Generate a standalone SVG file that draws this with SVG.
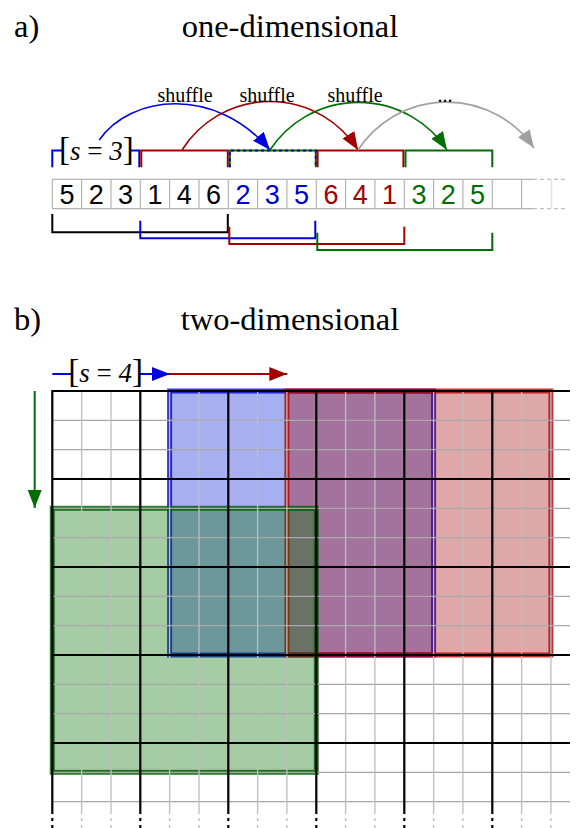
<svg xmlns="http://www.w3.org/2000/svg" width="581" height="828" viewBox="0 0 581 828">
<style>
.title{font-family:"Liberation Serif","Times New Roman",serif;font-size:32.5px;fill:#000}
.lbl{font-family:"Liberation Serif","Times New Roman",serif;font-size:20px;fill:#000;text-anchor:middle}
.num{font-family:"Liberation Sans",Arial,sans-serif;font-size:27px;text-anchor:middle}
.br{font-family:"Liberation Serif","Times New Roman",serif;fill:#000;text-anchor:middle}
.cell{stroke:#b4b4b4;stroke-width:1.2;fill:none}
.brk{fill:none;stroke-width:2}
.arc{fill:none;stroke-width:1.6}
.g1{stroke:#a8a8a8;stroke-width:1.3;fill:none}
.g1v{stroke:#bdbdbd;stroke-width:1.3;fill:none}
.g2{stroke:#000;stroke-width:2.2;fill:none}
</style>
<defs>
<marker id="mb" markerUnits="userSpaceOnUse" viewBox="0 0 18 14" markerWidth="18" markerHeight="14" refX="18" refY="7" orient="auto"><path d="M0,0 L18,7 L0,14 z" fill="#0000dd"/></marker>
<marker id="mr" markerUnits="userSpaceOnUse" viewBox="0 0 18 14" markerWidth="18" markerHeight="14" refX="18" refY="7" orient="auto"><path d="M0,0 L18,7 L0,14 z" fill="#a00000"/></marker>
<marker id="mg" markerUnits="userSpaceOnUse" viewBox="0 0 18 14" markerWidth="18" markerHeight="14" refX="18" refY="7" orient="auto"><path d="M0,0 L18,7 L0,14 z" fill="#006e00"/></marker>
<marker id="mk" markerUnits="userSpaceOnUse" viewBox="0 0 18 14" markerWidth="18" markerHeight="14" refX="18" refY="7" orient="auto"><path d="M0,0 L18,7 L0,14 z" fill="#a0a0a0"/></marker>
</defs>

<text class="title" x="14" y="37" font-size="33">a)</text>
<text class="title" x="290" y="37" text-anchor="middle">one-dimensional</text>
<text class="title" x="14" y="330" font-size="33">b)</text>
<text class="title" x="290" y="330" text-anchor="middle">two-dimensional</text>

<!-- 1D row -->
<g id="row">
<path class="cell" d="M52.3,179.3 H533 M52.3,208.7 H533"/>
<path d="M533,179.3 H567 M533,208.7 H567" stroke="#c0c0c0" stroke-width="1.2" stroke-dasharray="4,3" fill="none"/>
<path class="cell" d="M52.3,179.3 V208.7 M81.6,179.3 V208.7 M111,179.3 V208.7 M140.3,179.3 V208.7 M169.6,179.3 V208.7 M199,179.3 V208.7 M228.3,179.3 V208.7 M257.6,179.3 V208.7 M286.9,179.3 V208.7 M316.3,179.3 V208.7 M345.6,179.3 V208.7 M374.9,179.3 V208.7 M404.3,179.3 V208.7 M433.6,179.3 V208.7 M462.9,179.3 V208.7 M492.3,179.3 V208.7 M521.6,179.3 V208.7"/>
<path d="M551.5,179.3 V208.7" stroke="#e2e2e2" stroke-width="1.5"/>
<g class="num" fill="#000">
<text x="67" y="204.3">5</text><text x="96.3" y="204.3">2</text><text x="125.6" y="204.3">3</text><text x="155" y="204.3">1</text><text x="184.3" y="204.3">4</text><text x="213.6" y="204.3">6</text>
</g>
<g class="num" fill="#0000d0">
<text x="243" y="204.3">2</text><text x="272.3" y="204.3">3</text><text x="301.6" y="204.3">5</text>
</g>
<g class="num" fill="#a00000">
<text x="331" y="204.3">6</text><text x="360.3" y="204.3">4</text><text x="389.6" y="204.3">1</text>
</g>
<g class="num" fill="#006e00">
<text x="419" y="204.3">3</text><text x="448.3" y="204.3">2</text><text x="477.6" y="204.3">5</text>
</g>
</g>

<!-- top brackets -->
<g id="top-brackets">
<path class="brk" stroke="#0000dd" d="M52.3,167.3 V150.5 H62 M129.5,150.5 H139.3 V167.3"/>
<text class="br" x="96.3" y="159.5"><tspan font-size="33">[</tspan><tspan font-size="27" font-style="italic">s</tspan><tspan font-size="27"> = </tspan><tspan font-size="27" font-style="italic">3</tspan><tspan font-size="33">]</tspan></text>
<path class="brk" stroke="#a00000" d="M141.3,167.3 V150.5 H227.8 V167.3"/>
<path class="brk" stroke="#006e00" d="M229.8,167.3 V150.5 H315.8 V167.3"/>
<path class="brk" stroke="#0000dd" stroke-dasharray="3,3" d="M229.8,167.3 V150.5 H315.8 V167.3"/>
<path class="brk" stroke="#a00000" d="M317.6,167.3 V150.5 H403.4 V167.3"/>
<path class="brk" stroke="#006e00" d="M405.5,167.3 V150.5 H492.3 V167.3"/>
</g>

<!-- bottom brackets -->
<g id="bottom-brackets">
<path class="brk" stroke="#000" d="M52.3,214 V232.3 H227.8 V214"/>
<path class="brk" stroke="#0000dd" d="M140.3,220.7 V238.3 H315.3 V220.7"/>
<path class="brk" stroke="#a00000" d="M229.3,226.7 V244 H404.3 V226.7"/>
<path class="brk" stroke="#006e00" d="M317.3,232.7 V250 H492.3 V232.7"/>
</g>

<!-- shuffle arcs -->
<g id="connectors">
<path class="arc" stroke="#0000dd" marker-end="url(#mb)" d="M99.3,140 C130,95 215,85 270,150"/>
<path class="arc" stroke="#a00000" marker-end="url(#mr)" d="M182,150 A104 104 0 0 1 358,150"/>
<path class="arc" stroke="#006e00" marker-end="url(#mg)" d="M270,150 A106 106 0 0 1 447,150"/>
<path class="arc" stroke="#a0a0a0" marker-end="url(#mk)" d="M358,150 A106 106 0 0 1 534,148"/>
<path stroke="#0000dd" stroke-width="2" fill="none" d="M52.3,374 H72"/>
<path stroke="#0000dd" stroke-width="2" fill="none" marker-end="url(#mb)" d="M139,374 H170"/>
<path stroke="#a00000" stroke-width="2" fill="none" marker-end="url(#mr)" d="M170,374 H287.3"/>
<path stroke="#006e00" stroke-width="2" fill="none" marker-end="url(#mg)" d="M34.7,391 V508"/>
</g>
<text class="lbl" x="185" y="101.5">shuffle</text>
<text class="lbl" x="267" y="101.5">shuffle</text>
<text class="lbl" x="355" y="101.5">shuffle</text>
<text class="lbl" x="445" y="101.5">...</text>
<text class="br" x="105.5" y="381.5"><tspan font-size="33">[</tspan><tspan font-size="27" font-style="italic">s</tspan><tspan font-size="27"> = </tspan><tspan font-size="27" font-style="italic">4</tspan><tspan font-size="33">]</tspan></text>

<!-- 2D windows -->
<g id="win-blue"><rect x="169.6" y="391" width="264" height="264" fill="#001ad4" fill-opacity="0.35" stroke="#0000cc" stroke-opacity="0.8" stroke-width="5"/></g>
<g id="win-red"><rect x="286.9" y="391" width="264" height="264" fill="#9e0000" fill-opacity="0.34" stroke="#b00000" stroke-opacity="0.8" stroke-width="5"/></g>
<g id="win-green"><rect x="52.3" y="508.3" width="264" height="264" fill="#006d00" fill-opacity="0.35" stroke="#005a00" stroke-opacity="0.8" stroke-width="5"/></g>

<!-- grid -->
<g id="grid">
<path class="g1" d="M52.3,420.3 H570 M52.3,449.7 H570 M52.3,508.3 H570 M52.3,537.7 H570 M52.3,596.3 H570 M52.3,625.6 H570 M52.3,684.3 H570 M52.3,713.6 H570 M52.3,772.3 H570 M52.3,801.6 H570"/>
<path class="g1v" d="M81.6,391 V811 M111,391 V811 M169.6,391 V811 M199,391 V811 M257.6,391 V811 M286.9,391 V811 M345.6,391 V811 M374.9,391 V811 M433.6,391 V811 M462.9,391 V811 M521.6,391 V811 M550.9,391 V811"/>
<path class="g1v" stroke-dasharray="3,4" d="M81.6,811 V828 M111,811 V828 M169.6,811 V828 M199,811 V828 M257.6,811 V828 M286.9,811 V828 M345.6,811 V828 M374.9,811 V828 M433.6,811 V828 M462.9,811 V828 M521.6,811 V828 M550.9,811 V828"/>
<path class="g2" d="M52.3,391 H570 M52.3,479 H570 M52.3,567 H570 M52.3,655 H570 M52.3,743 H570"/>
<path class="g2" d="M52.3,390 V811 M140.3,391 V811 M228.3,391 V811 M316.3,391 V811 M404.3,391 V811 M492.3,391 V811"/>
<path class="g2" stroke-dasharray="3,4" d="M52.3,811 V828 M140.3,811 V828 M228.3,811 V828 M316.3,811 V828 M404.3,811 V828 M492.3,811 V828"/>
</g>
</svg>
